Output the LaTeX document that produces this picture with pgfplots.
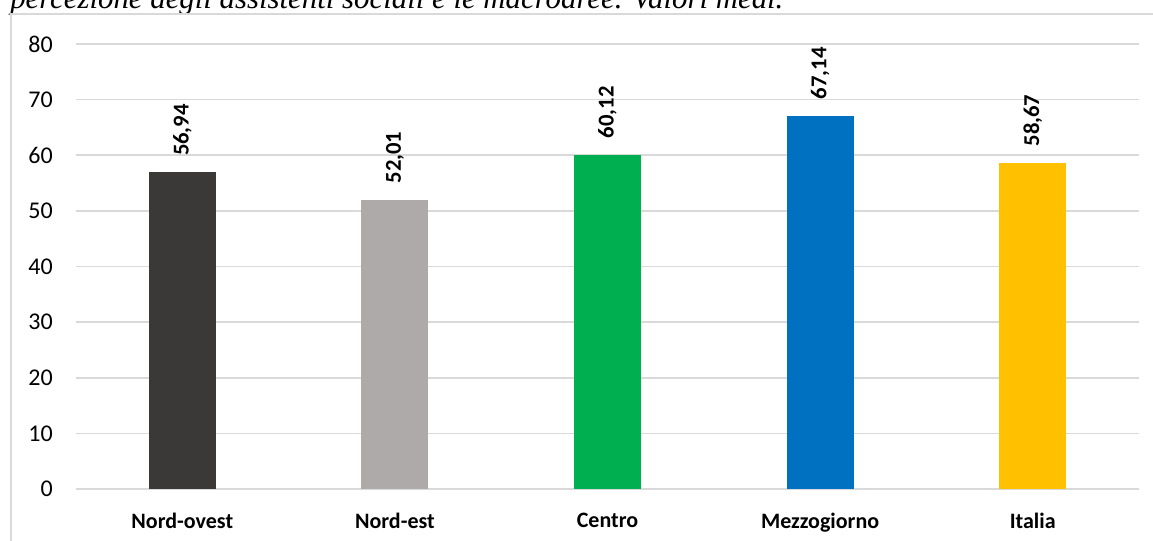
\documentclass[border=0pt]{standalone}
\usepackage{pgfplots}
\pgfplotsset{compat=1.18}
\usepackage{fontspec}
\setmainfont{Carlito}
\newfontfamily\titlefont{Liberation Serif}

\definecolor{gridgray}{HTML}{D9D9D9}
\definecolor{cNO}{HTML}{3A3938}
\definecolor{cNE}{HTML}{AEAAAA}
\definecolor{cCE}{HTML}{00B050}
\definecolor{cME}{HTML}{0070C0}
\definecolor{cIT}{HTML}{FFC000}

\begin{document}
\begin{tikzpicture}
% page is 1153 x 541 px, 1 px = 0.75pt
\clip (0,0) rectangle (864.75pt,-405.75pt);
\path[use as bounding box] (0,0) rectangle (864.75pt,-405.75pt);

% clipped caption above the chart frame
\node[anchor=base west, inner sep=0pt] at (7.5pt,-6.75pt)
  {\resizebox{579.75pt}{!}{\titlefont\itshape percezione degli assistenti sociali e le macroaree. Valori medi.}};

% chart frame
\draw[gridgray, line width=1.5pt] (8.25pt,-420pt) -- (8.25pt,-10.5pt) -- (880pt,-10.5pt);

\begin{axis}[
    at={(57pt,-33pt)}, anchor=north west,
    scale only axis,
    width=797.25pt, height=333.75pt,
    xmin=-0.5, xmax=4.5,
    ymin=0, ymax=80,
    ytick={0,10,...,80},
    xtick={0,1,2,3,4},
    xticklabels={Nord-ovest,Nord-est,Centro,Mezzogiorno,Italia},
    axis line style={draw=none},
    major tick length=0pt,
    ymajorgrids,
    grid style={gridgray, line width=1.2pt},
    /pgf/number format/assume math mode=true,
    yticklabel style={font=\fontsize{18}{20}\selectfont, anchor=east, inner sep=0pt, xshift=-17.25pt},
    xticklabel style={font=\fontsize{16.5}{18}\selectfont\bfseries, anchor=north, inner sep=0pt, yshift=-17.5pt},
    ybar, bar width=50.25pt, bar shift=0pt,
    point meta=explicit symbolic,
    nodes near coords,
    every node near coord/.style={rotate=90, anchor=west, inner xsep=12pt, inner ysep=0pt,
        font=\fontsize{17}{19}\selectfont\bfseries, text=black},
  ]
  \addplot[draw=none, fill=cNO] coordinates {(0,56.94) [56,94]};
  \addplot[draw=none, fill=cNE] coordinates {(1,52.01) [52,01]};
  \addplot[draw=none, fill=cCE] coordinates {(2,60.12) [60,12]};
  \addplot[draw=none, fill=cME] coordinates {(3,67.14) [67,14]};
  \addplot[draw=none, fill=cIT] coordinates {(4,58.67) [58,67]};
\end{axis}
\end{tikzpicture}
\end{document}
